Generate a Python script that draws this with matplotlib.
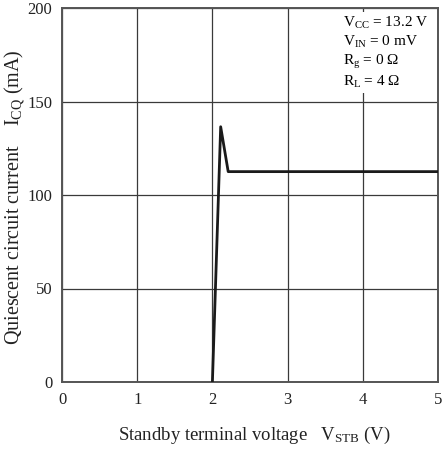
import matplotlib
matplotlib.use("Agg")
import matplotlib.pyplot as plt

plt.rcParams['font.family'] = 'Liberation Serif'
plt.rcParams['mathtext.fontset'] = 'custom'
plt.rcParams['mathtext.rm'] = 'Liberation Serif'
plt.rcParams['mathtext.it'] = 'Liberation Serif'

# Data
v_stb = [2.0, 2.11, 2.21, 5.0]
i_cq = [0.0, 136.5, 112.5, 112.5]

x_ticks = [0, 1, 2, 3, 4, 5]
y_ticks = [0, 50, 100, 150, 200]

fig = plt.figure(figsize=(4.46, 4.5), dpi=100)
ax = fig.add_axes([62 / 446, 1 - 382 / 450, 376 / 446, 374 / 450])

ax.plot(v_stb, i_cq, color='#1a1a1a', linewidth=2.0, zorder=3)

ax.set_xlim(0, 5)
ax.set_ylim(0, 200)
ax.set_xticks(x_ticks)
ax.set_yticks(y_ticks)
ax.tick_params(length=0, labelsize=12, pad=7, colors='#222222')
ax.grid(True, color='#3a3a3a', linewidth=0.9)
for s in ax.spines.values():
    s.set_color('#555555')
    s.set_linewidth(1.4)

# axis titles placed directly in figure coords
fig.text(254 / 446, 1 - 435 / 450, r'Standby terminal voltage   V$_{\mathrm{STB}}$ (V)',
         fontsize=13.5, ha='center', va='center', color='#222222')
fig.text(15 / 446, 1 - 197 / 450, r'Quiescent circuit current    I$_{\mathrm{CQ}}$ (mA)',
         fontsize=14.5, ha='center', va='center', rotation=90, color='#222222')

cond = (r'V$_{\mathrm{CC}}$ = 13.2 V' + '\n' + r'V$_{\mathrm{IN}}$ = 0 mV' + '\n'
        + r'R$_{\mathrm{g}}$ = 0 $\Omega$' + '\n' + r'R$_{\mathrm{L}}$ = 4 $\Omega$')
ax.text(0.748, 0.982, cond, transform=ax.transAxes, fontsize=11, va='top', ha='left',
        linespacing=1.25, zorder=4,
        bbox=dict(facecolor='white', edgecolor='none', pad=2))

plt.savefig('out.png', dpi=100)
